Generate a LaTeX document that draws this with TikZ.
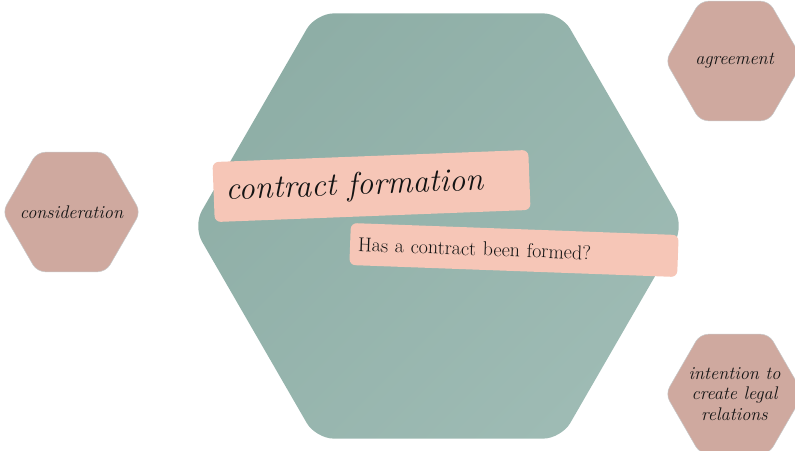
\documentclass[tikz,border=0pt]{standalone}
\usetikzlibrary{shapes.geometric}
\definecolor{sage}{HTML}{8EAEA6}
\definecolor{sagelight}{HTML}{9EBBB4}
\definecolor{rosehex}{HTML}{CFA99F}
\definecolor{peach}{HTML}{F6C6B7}
\definecolor{ink}{HTML}{141414}

\begin{document}
\begin{tikzpicture}[x=1pt,y=-1pt,
	bighex/.style={regular polygon, regular polygon sides=6, minimum size=491pt, inner sep=0pt, rounded corners=18pt, top color=sage, bottom color=sagelight, shading angle=45},
	smallhex/.style={regular polygon, regular polygon sides=6, minimum size=138pt, inner sep=-12pt, rounded corners=8pt, fill=rosehex, draw=black!22, line width=0.5pt, text=ink, align=center, font=\fontsize{18.3}{20.5}\selectfont\itshape},
	tag/.style={fill=peach, rounded corners=6pt, text=ink, align=left, inner ysep=0pt}]
	\useasboundingbox (0,0) rectangle (795,450);

	\node[bighex] (formation) at (438.5,226) {};
	\node[smallhex] (consideration) at (71.5,212) {consideration};
	\node[smallhex] (agreement) at (734.5,61) {agreement};
	\node[smallhex] (intention) at (734.5,394) {intention to\\create legal\\relations};

	% labels on the big hexagon
	\node[tag, rotate=2.2, minimum height=60pt, inner xsep=12pt, text width=292pt, font=\fontsize{32.5}{36}\selectfont\itshape] (title) at (371.5,186) {contract formation};
	\node[tag, rotate=-2.1, minimum height=42pt, inner xsep=8pt, text width=312pt, font=\fontsize{20}{22}\selectfont] (question) at (514,250) {Has a contract been formed?};
\end{tikzpicture}
\end{document}
